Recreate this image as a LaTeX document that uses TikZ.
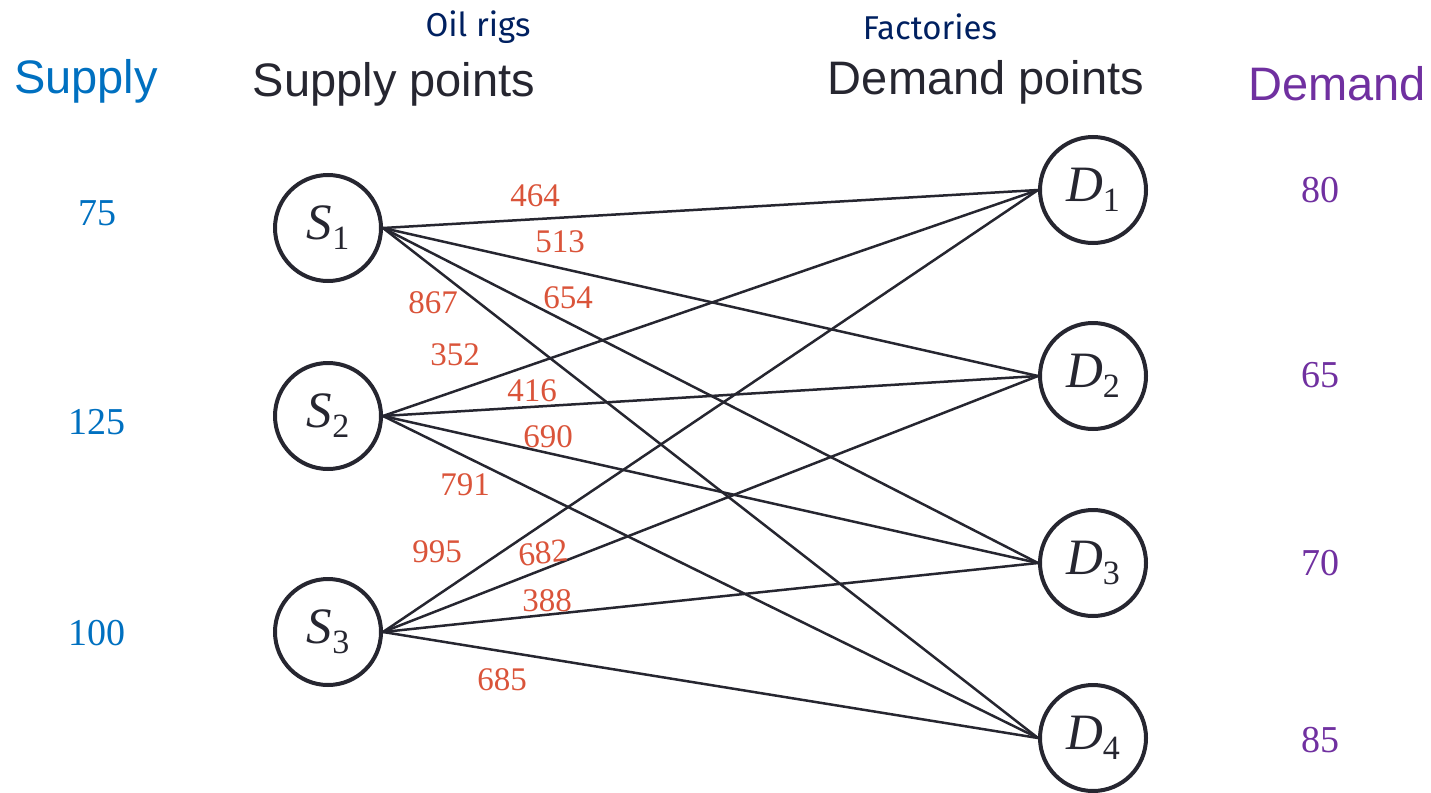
\documentclass[tikz,border=0pt]{standalone}
\usepackage{fontspec}
\setmainfont{Liberation Serif}
\newfontfamily\hdrfont{Liberation Sans}
\newfontfamily\notefont{Fira Sans}
\definecolor{supblue}{RGB}{0,112,192}
\definecolor{dempurple}{RGB}{112,48,160}
\definecolor{costred}{RGB}{218,84,58}
\definecolor{inkdark}{RGB}{38,38,48}
\definecolor{navy}{RGB}{0,32,96}
\newcommand{\pt}[2]{{\fontsize{51}{51}\selectfont\itshape #1}\raisebox{-10pt}{\fontsize{34}{34}\selectfont #2}}
\begin{document}
\begin{tikzpicture}[x=1pt,y=-1pt,
  point/.style={circle,draw=inkdark,line width=4pt,minimum size=106pt,inner sep=0pt,text=inkdark},
  link/.style={draw=inkdark,line width=2.5pt},
  cost/.style={text=costred,font=\fontsize{33}{33}\selectfont,inner sep=0pt},
  supval/.style={text=supblue,font=\fontsize{38}{38}\selectfont,inner sep=0pt},
  demval/.style={text=dempurple,font=\fontsize{38}{38}\selectfont,inner sep=0pt},
  head/.style={font=\hdrfont\fontsize{47}{47}\selectfont,inner sep=0pt},
  note/.style={text=navy,font=\notefont\fontsize{33}{33}\selectfont,inner sep=0pt}]
\useasboundingbox (0,0) rectangle (1431,792);

% headings
\node[head,text=supblue] (hsup) at (86,81) {Supply};
\node[head,text=inkdark] (hsp) at (394,84) {Supply points};
\node[head,text=inkdark] (hdp) at (986,82) {Demand points};
\node[head,text=dempurple] (hdem) at (1337,84) {Demand};
\node[note] (oil) at (478,27) {Oil rigs};
\node[note] (fac) at (930,27) {Factories};

% nodes
\node[point] (S1) at (328,228) {\pt{S}{1}};
\node[point] (S2) at (328,416) {\pt{S}{2}};
\node[point] (S3) at (328,632) {\pt{S}{3}};
\node[point] (D1) at (1093,190) {\pt{D}{1}};
\node[point] (D2) at (1093,376) {\pt{D}{2}};
\node[point] (D3) at (1093,563) {\pt{D}{3}};
\node[point] (D4) at (1093,738) {\pt{D}{4}};

% links
\foreach \s in {1,2,3}{
  \foreach \d in {1,2,3,4}{
    \draw[link] (S\s.east) -- (D\d.west);
  }
}

% supply / demand values
\node[supval] (v75) at (97,213) {75};
\node[supval] (v125) at (97,422) {125};
\node[supval] (v100) at (97,633) {100};
\node[demval] (v80) at (1320,190) {80};
\node[demval] (v65) at (1320,375) {65};
\node[demval] (v70) at (1320,563) {70};
\node[demval] (v85) at (1320,740) {85};

% costs
\node[cost] (c464) at (535,196) {464};
\node[cost] (c513) at (560,242) {513};
\node[cost] (c867) at (433,303) {867};
\node[cost] (c654) at (568,298) {654};
\node[cost] (c352) at (455,355) {352};
\node[cost] (c416) at (532,391) {416};
\node[cost] (c690) at (548,437) {690};
\node[cost] (c791) at (465,485) {791};
\node[cost] (c995) at (437,552) {995};
\node[cost,rotate=6] (c682) at (543,553) {682};
\node[cost] (c388) at (547,601) {388};
\node[cost] (c685) at (502,680) {685};
\end{tikzpicture}
\end{document}
